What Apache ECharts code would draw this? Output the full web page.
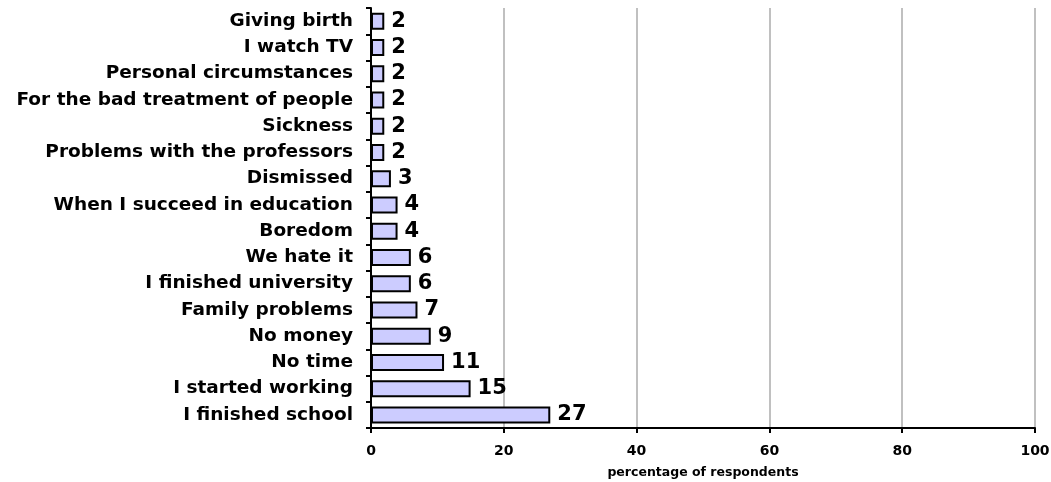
<!DOCTYPE html>
<html>
<head>
<meta charset="utf-8">
<script src="https://cdn.jsdelivr.net/npm/echarts@6/dist/echarts.min.js"></script>
<style>
  html, body { margin: 0; padding: 0; background: #fff; }
  #chart { width: 1051px; height: 482px; }
</style>
</head>
<body>
<div id="chart"></div>
<script>
// categories listed bottom to top
const reasons = [
  'I finished school',
  'I started working',
  'No time',
  'No money',
  'Family problems',
  'I finished university',
  'We hate it',
  'Boredom',
  'When I succeed in education',
  'Dismissed',
  'Problems with the professors',
  'Sickness',
  'For the bad treatment of people',
  'Personal circumstances',
  'I watch TV',
  'Giving birth'
]
const percentages = [27, 15, 11, 9, 7, 6, 6, 4, 4, 3, 2, 2, 2, 2, 2, 2]
const xTicks = [0, 20, 40, 60, 80, 100]

const font = 'DejaVu Sans, Verdana, sans-serif'
const chart = echarts.init(document.getElementById('chart'))

chart.setOption({
  animation: false,
  grid: { left: 371, right: 16, top: 8, bottom: 54, outerBoundsMode: 'none', containLabel: false },
  xAxis: {
    type: 'value',
    min: xTicks[0],
    max: xTicks[xTicks.length - 1],
    interval: 20,
    name: 'percentage of respondents',
    nameLocation: 'middle',
    nameGap: 38,
    nameTextStyle: { color: '#000', fontFamily: font, fontWeight: 'bold', fontSize: 12.5 },
    axisLine: { show: true, lineStyle: { color: '#000', width: 2 } },
    axisTick: { show: true, length: 5, lineStyle: { color: '#000', width: 2 } },
    axisLabel: { color: '#000', fontFamily: font, fontWeight: 'bold', fontSize: 14, margin: 16 },
    splitLine: { show: true, lineStyle: { color: '#c0c0c0', width: 2 } }
  },
  yAxis: {
    type: 'category',
    data: reasons,
    axisLine: { show: true, lineStyle: { color: '#000', width: 2 } },
    axisTick: { show: true, length: 5, lineStyle: { color: '#000', width: 2 } },
    axisLabel: { color: '#000', fontFamily: font, fontWeight: 'bold', fontSize: 18.5, margin: 18 }
  },
  series: [{
    type: 'bar',
    data: percentages,
    barWidth: 17,
    itemStyle: { color: '#ccccff', borderColor: '#000', borderWidth: 2 },
    label: {
      show: true,
      position: 'right',
      distance: 7,
      color: '#000',
      fontFamily: font,
      fontWeight: 'bold',
      fontSize: 21
    }
  }]
})
</script>
</body>
</html>
